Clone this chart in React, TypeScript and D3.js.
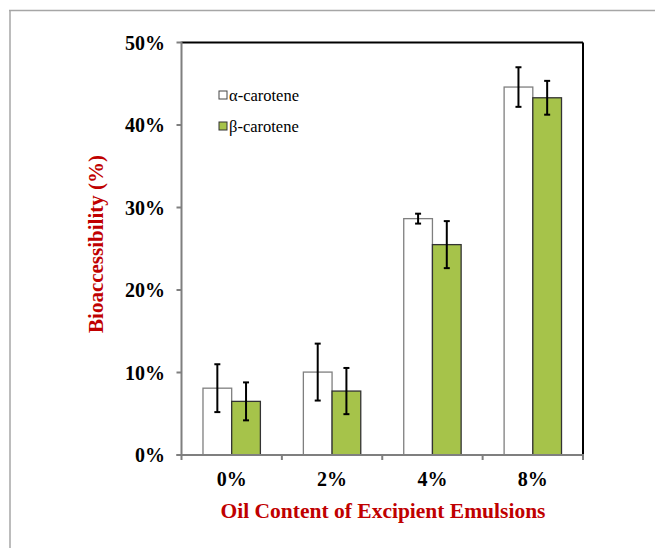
import React from "react";
import * as d3 from "d3";

const categories = ["0%", "2%", "4%", "8%"];
const seriesNames = ["α-carotene", "β-carotene"];
const alphaValues = [8.1, 10.05, 28.65, 44.6];
const alphaErrors = [2.9, 3.45, 0.6, 2.4];
const betaValues = [6.5, 7.75, 25.5, 43.3];
const betaErrors = [2.3, 2.8, 2.85, 2.05];
const yTicks = [0, 10, 20, 30, 40, 50];

const W = 655;
const H = 548;
const left = 181.5;
const right = 583;
const top = 42.5;
const bottom = 455;
const RED = "#c00000";
const GREEN = "#a6c34a";
const serif = "'Liberation Serif', 'Times New Roman', serif";

export default function App() {
  const x = d3.scaleBand<string>().domain(categories).range([left, right]).paddingInner(0).paddingOuter(0);
  const y = d3.scaleLinear().domain([0, 50]).range([bottom, top]);
  const barW = 28.7;
  const series = [
    { name: seriesNames[0], values: alphaValues, errors: alphaErrors, fill: "#ffffff", stroke: "#7f7f7f" },
    { name: seriesNames[1], values: betaValues, errors: betaErrors, fill: GREEN, stroke: "#333333" },
  ];
  return (
    <svg width={W} height={H} style={{ position: "absolute", left: 0, top: 0, background: "#fff" }}>
      {/* page frame */}
      <line x1={9} y1={10.5} x2={W} y2={10.5} stroke="#a6a6a6" strokeWidth={1.5} />
      <line x1={10} y1={10} x2={10} y2={H} stroke="#a6a6a6" strokeWidth={1.5} />

      {/* plot border top/right */}
      <line x1={left} y1={top} x2={right} y2={top} stroke="#000" strokeWidth={2} />
      <line x1={right} y1={top} x2={right} y2={bottom} stroke="#000" strokeWidth={2} />

      {/* bars */}
      {series.map((s, si) =>
        categories.map((c, i) => {
          const cx = (x(c) as number) + x.bandwidth() / 2;
          const bx = cx - barW + si * barW;
          const v = s.values[i];
          const e = s.errors[i];
          const ex = bx + barW / 2;
          return (
            <g key={`${si}-${i}`}>
              <rect x={bx} y={y(v)} width={barW} height={bottom - y(v)} fill={s.fill} stroke={s.stroke} strokeWidth={1.3} />
              <line x1={ex} x2={ex} y1={y(v + e)} y2={y(v - e)} stroke="#000" strokeWidth={2} />
              <line x1={ex - 3} x2={ex + 3} y1={y(v + e)} y2={y(v + e)} stroke="#000" strokeWidth={2} />
              <line x1={ex - 3} x2={ex + 3} y1={y(v - e)} y2={y(v - e)} stroke="#000" strokeWidth={2} />
            </g>
          );
        })
      )}

      {/* y axis */}
      <line x1={left} y1={top - 1} x2={left} y2={bottom} stroke="#7f7f7f" strokeWidth={2} />
      {yTicks.map((t) => (
        <g key={t}>
          <line x1={left - 5} x2={left} y1={y(t)} y2={y(t)} stroke="#7f7f7f" strokeWidth={2} />
          <text x={165} y={y(t)} dy="0.35em" textAnchor="end" fontFamily={serif} fontWeight="bold" fontSize={20} fill="#000">
            {t}%
          </text>
        </g>
      ))}

      {/* x axis */}
      <line x1={left - 5} x2={right + 1} y1={bottom} y2={bottom} stroke="#7f7f7f" strokeWidth={2} />
      {[...categories.map((c) => x(c) as number), right].map((p, i) => (
        <line key={i} x1={p} x2={p} y1={bottom} y2={bottom + 5} stroke="#7f7f7f" strokeWidth={2} />
      ))}
      {categories.map((c) => (
        <text key={c} x={(x(c) as number) + x.bandwidth() / 2} y={486} textAnchor="middle" fontFamily={serif} fontWeight="bold" fontSize={20} fill="#000">
          {c}
        </text>
      ))}

      {/* axis titles */}
      <text x={383} y={518} textAnchor="middle" fontFamily={serif} fontWeight="bold" fontSize={21.5} fill={RED}>
        Oil Content of Excipient Emulsions
      </text>
      <text transform={`translate(103,244) rotate(-90)`} textAnchor="middle" fontFamily={serif} fontWeight="bold" fontSize={21} fill={RED}>
        Bioaccessibility (%)
      </text>

      {/* legend */}
      {series.map((s, i) => (
        <g key={s.name} transform={`translate(219,${91 + i * 31})`}>
          <rect x={0} y={0} width={8} height={8} fill={s.fill} stroke={i === 0 ? "#444" : "#333"} strokeWidth={1} />
          <text x={10} y={9.5} fontFamily={serif} fontSize={16.5} fill="#000">
            {s.name}
          </text>
        </g>
      ))}
    </svg>
  );
}
